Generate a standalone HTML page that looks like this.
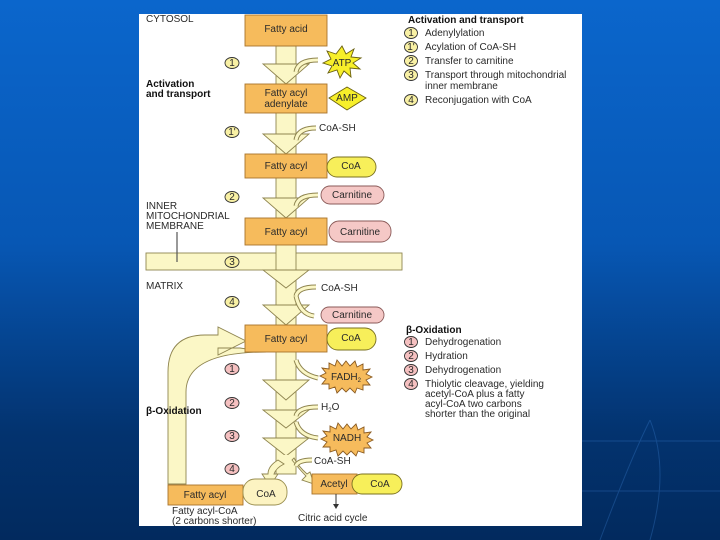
<!DOCTYPE html>
<html><head><meta charset="utf-8"><style>
html,body{margin:0;padding:0;width:720px;height:540px;overflow:hidden}
body{background:linear-gradient(180deg,#0b66cc 0%,#0757b4 45%,#03336f 80%,#022a5e 100%)}
svg{position:absolute;left:0;top:0}
text{font-family:"Liberation Sans",sans-serif;font-size:10px;fill:#2a2a2a}
.b{font-weight:bold;fill:#111}
</style></head><body>
<svg width="720" height="540" viewBox="0 0 720 540">
<g stroke="#3f86d8" stroke-width="1" opacity="0.3" fill="none">
<line x1="582" y1="441" x2="720" y2="441"/><line x1="582" y1="491" x2="720" y2="491"/>
<path d="M650 540 Q670 470 650 420"/><path d="M600 540 Q630 460 650 420"/>
</g>
<rect x="139" y="14" width="443" height="512" fill="#fff"/>
<!-- membrane -->
<rect x="146" y="253" width="256" height="17" fill="#fbf7c6" stroke="#8f8550" stroke-width="0.9"/>
<line x1="177" y1="232" x2="177" y2="262" stroke="#555" stroke-width="1.2"/>
<!-- loop -->
<path d="M168,484 L168,372 Q168,335 205,335 L218,335 L218,327 L246,341 L218,355 L218,348 L240,348 L266,352 Q186,352 186,392 L186,484 Z" fill="#fbf7c6" stroke="#8f8550" stroke-width="0.9"/>
<!-- shaft -->
<rect x="276" y="46" width="20" height="428" fill="#fbf7c6" stroke="#8f8550" stroke-width="0.9"/>
<g fill="#fbf7c6" stroke="#8f8550" stroke-width="0.9">
<polygon points="263,64 309,64 286,84"/>
<polygon points="263,134 309,134 286,154"/>
<polygon points="263,198 309,198 286,218"/>
<polygon points="263,270 309,270 286,288"/>
<polygon points="263,305 309,305 286,325"/>
<polygon points="263,380 309,380 286,400"/>
<polygon points="263,410 309,410 286,428"/>
<polygon points="263,438 309,438 286,456"/>
</g>
<rect x="277" y="455" width="18" height="12" fill="#fbf7c6"/>
<g fill="#fbf7c6" stroke="#8f8550" stroke-width="0.9">
<path d="M278,460 Q268,466 268,474 L262,474 L270,486 L278,474 L274,474 Q276,468 284,464 Z"/>
<path d="M292,460 Q300,470 306,476 L302,480 L314,484 L310,472 L307,474 Q298,466 294,458 Z"/>
</g>
<g fill="none" stroke="#8f8550" stroke-width="5"><path d="M296,72 Q298,60 318,60"/><path d="M296,140 Q298,128 316,128"/><path d="M296,206 Q298,195 318,195"/><path d="M296,296 Q298,287 316,287"/><path d="M296,296 Q300,314 314,316"/><path d="M296,360 Q300,374 318,378"/><path d="M296,416 Q298,407 318,407"/><path d="M296,422 Q300,436 318,438"/><path d="M296,466 Q298,460 312,460"/></g>
<g fill="none" stroke="#fbf7c6" stroke-width="3"><path d="M296,72 Q298,60 318,60"/><path d="M296,140 Q298,128 316,128"/><path d="M296,206 Q298,195 318,195"/><path d="M296,296 Q298,287 316,287"/><path d="M296,296 Q300,314 314,316"/><path d="M296,360 Q300,374 318,378"/><path d="M296,416 Q298,407 318,407"/><path d="M296,422 Q300,436 318,438"/><path d="M296,466 Q298,460 312,460"/></g>
<g fill="#f6bb5c" stroke="#a8742c" stroke-width="0.9">
<rect x="245" y="15" width="82" height="31"/>
<rect x="245" y="84" width="82" height="29"/>
<rect x="245" y="154" width="82" height="24"/>
<rect x="245" y="218" width="82" height="27"/>
<rect x="245" y="325" width="82" height="27"/>
<rect x="168" y="485" width="75" height="20"/>
<rect x="312" y="474" width="45" height="20"/>
</g>
<g fill="#f7ef5a" stroke="#7a7020" stroke-width="0.9">
<rect x="327" y="157" width="49" height="20" rx="10"/>
<rect x="327" y="328" width="49" height="22" rx="11"/>
<rect x="352" y="474" width="50" height="20" rx="10"/>
</g>
<rect x="243" y="479" width="44" height="26" rx="12" fill="#fcf3c2" stroke="#9a8f50" stroke-width="0.9"/>
<g fill="#f5c8c6" stroke="#8a5a58" stroke-width="0.9">
<rect x="321" y="186" width="63" height="18" rx="9"/>
<rect x="329" y="221" width="62" height="21" rx="10"/>
<rect x="321" y="307" width="63" height="16" rx="8"/>
</g>
<polygon points="347,87 366,98 347,110 329,98" fill="#f7ef2a" stroke="#6a6010" stroke-width="0.9"/>
<polygon points="342,46 346,54 354,49 351,57 361,58 353,63 360,69 350,68 351,77 344,71 340,78 337,70 328,73 332,66 323,63 331,59 327,51 336,54" fill="#f7ef2a" stroke="#6a6010" stroke-width="0.9"/>
<g fill="#f6bb5c" stroke="#8a5a20" stroke-width="0.9">
<polygon points="346,361 350,366 355,361 357,367 363,364 363,370 370,369 366,374 372,377 366,380 370,385 363,385 363,390 357,388 355,393 350,388 346,392 342,388 337,393 335,387 329,389 329,384 322,384 326,379 320,376 326,373 322,368 329,369 329,363 335,366 337,360 342,366"/>
<polygon points="347,424 351,429 356,424 358,430 364,427 364,433 371,432 367,437 373,440 367,443 371,448 364,448 364,453 358,451 356,456 351,451 347,455 343,451 338,456 336,450 330,452 330,447 323,447 327,442 321,439 327,436 323,431 330,432 330,426 336,429 338,423 343,429"/>
</g>
<line x1="336" y1="494" x2="336" y2="505" stroke="#333" stroke-width="1"/>
<polygon points="333,504 339,504 336,509" fill="#333"/>
<g fill="#f8f0a4" stroke="#333" stroke-width="0.9">
<ellipse cx="232" cy="63" rx="7" ry="5.5"/><ellipse cx="232" cy="132" rx="7" ry="5.5"/><ellipse cx="232" cy="197" rx="7" ry="5.5"/><ellipse cx="232" cy="262" rx="7" ry="5.5"/><ellipse cx="232" cy="302" rx="7" ry="5.5"/>
<ellipse cx="411" cy="33" rx="6.5" ry="5.5"/><ellipse cx="411" cy="47" rx="6.5" ry="5.5"/><ellipse cx="411" cy="61" rx="6.5" ry="5.5"/><ellipse cx="411" cy="75" rx="6.5" ry="5.5"/><ellipse cx="411" cy="100" rx="6.5" ry="5.5"/>
</g>
<g fill="#f5c0c0" stroke="#333" stroke-width="0.9">
<ellipse cx="232" cy="369" rx="7" ry="5.5"/><ellipse cx="232" cy="403" rx="7" ry="5.5"/><ellipse cx="232" cy="436" rx="7" ry="5.5"/><ellipse cx="232" cy="469" rx="7" ry="5.5"/>
<ellipse cx="411" cy="342" rx="6.5" ry="5.5"/><ellipse cx="411" cy="356" rx="6.5" ry="5.5"/><ellipse cx="411" cy="370" rx="6.5" ry="5.5"/><ellipse cx="411" cy="384" rx="6.5" ry="5.5"/>
</g>
<g style="font-size:7.5px" text-anchor="middle" fill="#222">
<text x="232" y="66">1</text><text x="232" y="135">1'</text><text x="232" y="200">2</text><text x="232" y="265">3</text><text x="232" y="305">4</text>
<text x="411" y="36">1</text><text x="411" y="50">1'</text><text x="411" y="64">2</text><text x="411" y="78">3</text><text x="411" y="103">4</text>
<text x="232" y="372">1</text><text x="232" y="406">2</text><text x="232" y="439">3</text><text x="232" y="472">4</text>
<text x="411" y="345">1</text><text x="411" y="359">2</text><text x="411" y="373">3</text><text x="411" y="387">4</text>
</g>
<text x="146" y="22">CYTOSOL</text>
<text x="146" y="87" class="b">Activation</text><text x="146" y="97" class="b">and transport</text>
<text x="146" y="209">INNER</text><text x="146" y="219">MITOCHONDRIAL</text><text x="146" y="229">MEMBRANE</text>
<text x="146" y="289">MATRIX</text>
<text x="146" y="414" class="b">β-Oxidation</text>
<g text-anchor="middle">
<text x="286" y="32">Fatty acid</text>
<text x="286" y="96">Fatty acyl</text><text x="286" y="107">adenylate</text>
<text x="286" y="169">Fatty acyl</text><text x="286" y="235">Fatty acyl</text><text x="286" y="342">Fatty acyl</text>
<text x="205" y="498">Fatty acyl</text><text x="334" y="487">Acetyl</text>
<text x="351" y="169">CoA</text><text x="351" y="341">CoA</text><text x="380" y="487">CoA</text><text x="266" y="497">CoA</text>
<text x="352" y="198">Carnitine</text><text x="360" y="235">Carnitine</text><text x="352" y="318">Carnitine</text>
<text x="342" y="66">ATP</text><text x="347" y="101">AMP</text>
<text x="346" y="380">FADH<tspan style="font-size:6px" dy="2">2</tspan></text>
<text x="347" y="441">NADH</text>
</g>
<text x="319" y="131">CoA-SH</text><text x="321" y="291">CoA-SH</text><text x="314" y="464">CoA-SH</text>
<text x="321" y="410">H<tspan style="font-size:6px" dy="2">2</tspan><tspan dy="-2">O</tspan></text>
<text x="172" y="514">Fatty acyl-CoA</text><text x="172" y="524">(2 carbons shorter)</text>
<text x="298" y="521">Citric acid cycle</text>
<text x="408" y="23" class="b">Activation and transport</text>
<text x="425" y="36">Adenylylation</text><text x="425" y="50">Acylation of CoA-SH</text><text x="425" y="64">Transfer to carnitine</text>
<text x="425" y="78">Transport through mitochondrial</text><text x="425" y="89">inner membrane</text><text x="425" y="103">Reconjugation with CoA</text>
<text x="406" y="333" class="b">β-Oxidation</text>
<text x="425" y="345">Dehydrogenation</text><text x="425" y="359">Hydration</text><text x="425" y="373">Dehydrogenation</text>
<text x="425" y="387">Thiolytic cleavage, yielding</text><text x="425" y="397">acetyl-CoA plus a fatty</text><text x="425" y="407">acyl-CoA two carbons</text><text x="425" y="417">shorter than the original</text>
</svg>
</body></html>
